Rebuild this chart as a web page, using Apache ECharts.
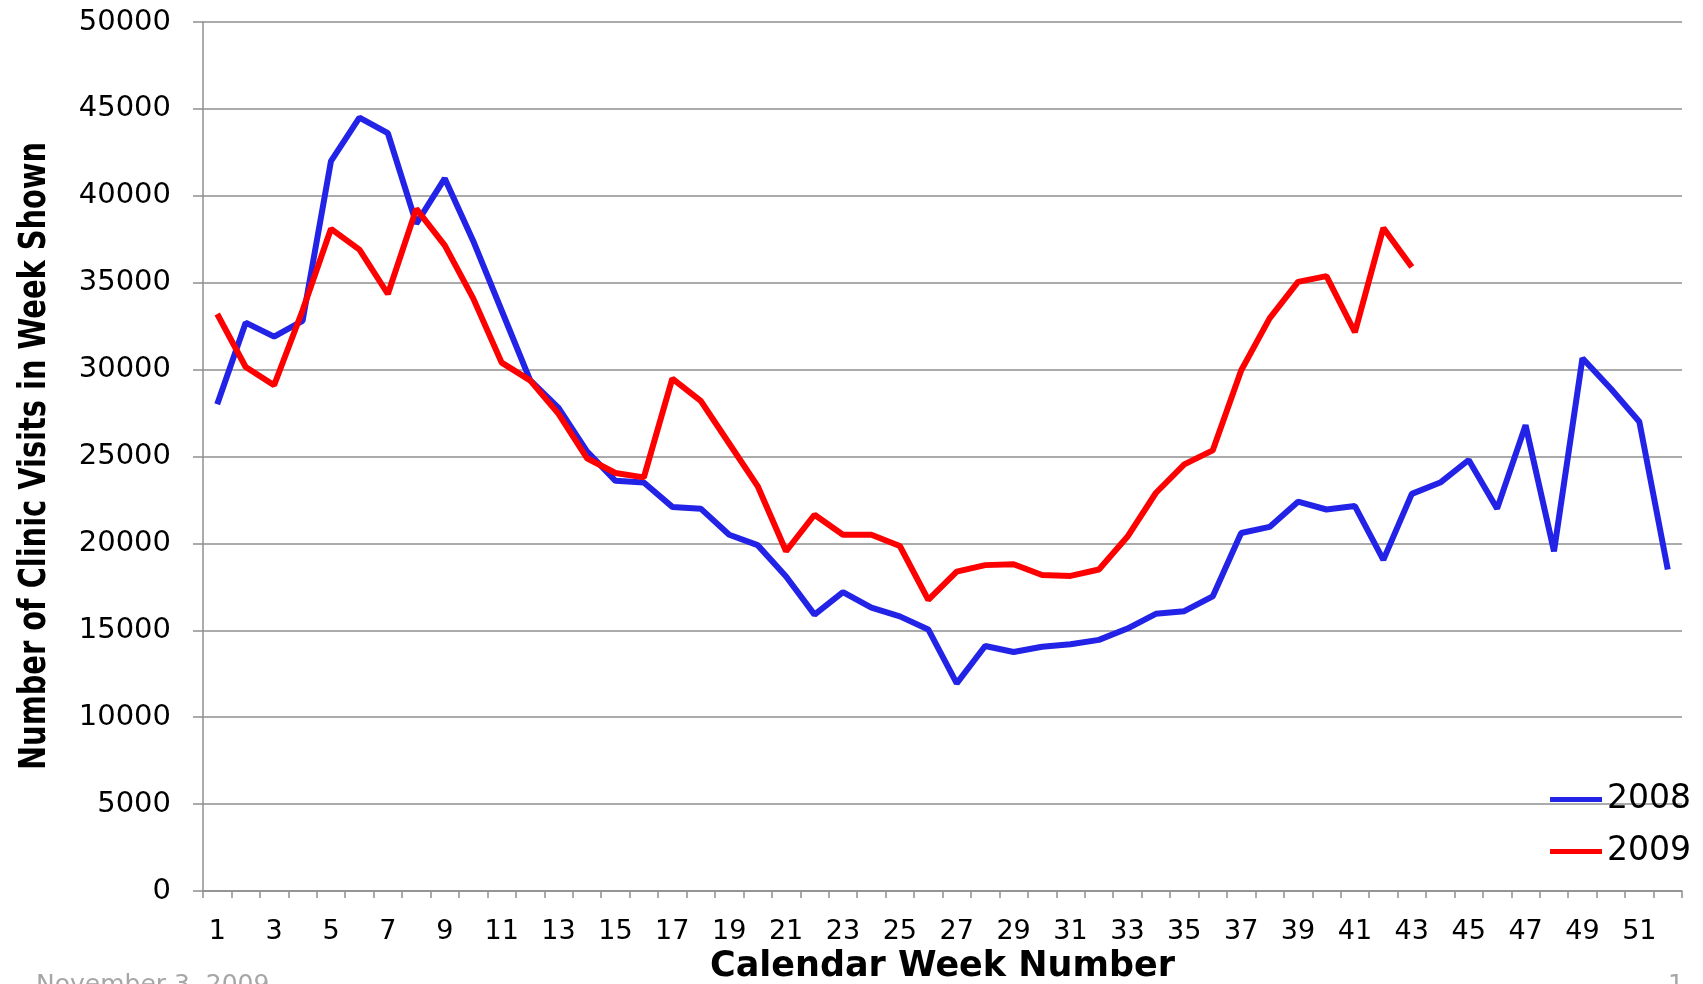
<!DOCTYPE html>
<html lang="en" style="height: 100%">

<head>
  <meta charset="utf-8">
</head>

<body style="height: 100%; margin: 0; background: #fff">
  <div id="container" style="height: 100%"></div>

  <script type="text/javascript" src="https://cdn.jsdelivr.net/npm/echarts@6/dist/echarts.min.js"></script>

  <script type="text/javascript">
    // calendar weeks 1..52
    var weeks = [];
    for (var w = 1; w <= 52; w++) weeks.push(String(w));

    // clinic visits per week
    var visits2008 = [
      28000, 32700, 31900, 32800, 42000, 44500, 43600, 38400, 41000, 37400,
      33400, 29400, 27800, 25300, 23600, 23500, 22100, 22000, 20500, 19900,
      18100, 15900, 17200, 16300, 15800, 15050, 11950, 14100, 13750, 14050,
      14200, 14450, 15100, 15950, 16100, 16950, 20600, 20950, 22400, 21950,
      22150, 19050, 22850, 23500, 24800, 22000, 26800, 19550, 30650, 28900,
      27000, 18500
    ];
    var visits2009 = [
      33200, 30150, 29100, 33400, 38100, 36900, 34350, 39250, 37150, 34100,
      30400, 29380, 27450, 24900, 24050, 23800, 29480, 28200, 25750, 23300,
      19550, 21650, 20500, 20500, 19850, 16750, 18380, 18750, 18800, 18180,
      18130, 18500, 20380, 22900, 24550, 25350, 29950, 32950, 35050, 35380,
      32150, 38150, 35900
    ];
    var yTicks = { min: 0, max: 50000, step: 5000 };

    var dom = document.getElementById('container');
    var myChart = echarts.init(dom, null, { renderer: 'canvas' });

    var gridGray = '#8f8f8f';
    var tickFont = 'DejaVu Sans, Verdana, sans-serif';

    var option = {
      animation: false,
      grid: { left: 203, right: 21, top: 22, bottom: 93, outerBoundsMode: 'none', containLabel: false },
      legend: {
        orient: 'vertical',
        right: 12,
        top: 783,
        padding: 0,
        itemWidth: 52,
        itemHeight: 5,
        itemGap: 19,
        icon: 'rect',
        textStyle: { fontFamily: tickFont, fontSize: 33, color: '#000' },
        data: ['2008', '2009']
      },
      xAxis: {
        type: 'category',
        data: weeks,
        boundaryGap: true,
        name: 'Calendar Week Number',
        nameLocation: 'middle',
        nameGap: 56,
        nameTextStyle: { fontFamily: tickFont, fontWeight: 'bold', fontSize: 35, color: '#000' },
        axisLine: { lineStyle: { color: gridGray, width: 1.5 } },
        axisTick: { show: true, interval: 0, length: 7, lineStyle: { color: gridGray, width: 1.5 } },
        axisLabel: { interval: 1, margin: 27, fontFamily: tickFont, fontSize: 27, color: '#000' },
        splitLine: { show: false }
      },
      yAxis: {
        type: 'value',
        min: yTicks.min,
        max: yTicks.max,
        interval: yTicks.step,
        axisLine: { show: true, lineStyle: { color: gridGray, width: 1.5 } },
        axisTick: { show: true, length: 10, lineStyle: { color: gridGray, width: 1.5 } },
        axisLabel: {
          margin: 32, fontFamily: tickFont, fontSize: 29, color: '#000',
          formatter: function (v) { return String(v); }
        },
        splitLine: { lineStyle: { color: gridGray, width: 1.5 } }
      },
      series: [
        {
          name: '2008',
          type: 'line',
          data: visits2008,
          showSymbol: false,
          color: '#2323e8',
          lineStyle: { width: 6, color: '#2323e8' }
        },
        {
          name: '2009',
          type: 'line',
          data: visits2009,
          showSymbol: false,
          color: '#ff0000',
          lineStyle: { width: 6, color: '#ff0000' }
        }
      ],
      graphic: [
        {
          // condensed bold y-axis title
          type: 'text', x: 35, y: 456, rotation: Math.PI / 2, scaleX: 0.78,
          style: {
            text: 'Number of Clinic Visits in Week Shown',
            fontFamily: tickFont, fontWeight: 'bold', fontSize: 37, fill: '#000',
            align: 'center', verticalAlign: 'middle'
          }
        },
        {
          type: 'text', left: 36, top: 973,
          style: { text: 'November 3, 2009', fontFamily: tickFont, fontSize: 25, fill: '#a6a6a6' }
        },
        {
          type: 'text', left: 1668, top: 973,
          style: { text: '1', fontFamily: tickFont, fontSize: 25, fill: '#a6a6a6' }
        }
      ]
    };

    myChart.setOption(option);
    window.addEventListener('resize', myChart.resize);
  </script>
</body>

</html>
